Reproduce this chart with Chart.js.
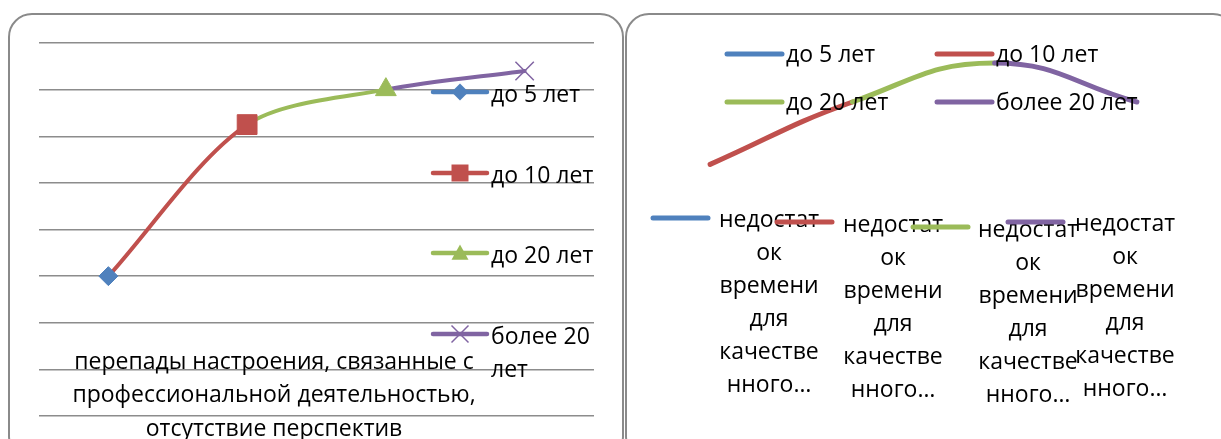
<!DOCTYPE html>
<html><head><meta charset="utf-8">
<script src="https://cdn.jsdelivr.net/npm/chart.js@4/dist/chart.umd.min.js"></script>
<style>
html,body{margin:0;padding:0;width:1221px;height:439px;overflow:hidden;background:#fff;}
.box{position:absolute;border:2px solid #8a8a8a;border-radius:24px;box-sizing:border-box;}
#b1{left:8px;top:13px;width:616px;height:448px;}
#b2{left:625px;top:13px;width:612px;height:448px;}
.wrap{position:absolute;top:0;height:439px;}
#w1{left:0;width:624px;}
#w2{left:624px;width:597px;}
</style></head><body>
<div class="box" id="b1"></div><div class="box" id="b2"></div>
<div class="wrap" id="w1"><canvas id="c1"></canvas></div>
<div class="wrap" id="w2"><canvas id="c2"></canvas></div>
<script>
// ---- data ----
const seriesNames = ['до 5 лет', 'до 10 лет', 'до 20 лет', 'более 20 лет'];
const seriesColors = ['#4f81bd', '#c0504d', '#9bbb59', '#8064a2'];
const seriesMarkers = ['rectRot', 'rect', 'triangle', 'crossRot'];
const leftCategoryLines = ['перепады настроения, связанные с', 'профессиональной деятельностью,', 'отсутствие перспектив'];
const leftValues = [30, 62.5, 70, 74];
const leftAxisMin = 0, leftAxisMax = 80, leftAxisStep = 10;
const leftLegendLines = [['до 5 лет'], ['до 10 лет'], ['до 20 лет'], ['более 20', 'лет']];
const rightCategoryLines = ['недостат', 'ок', 'времени', 'для', 'качестве', 'нного…'];
const rightValues = [14, 30, 40, 30];
const rightAxisMin = 0, rightAxisMax = 50;

const FONT = '23px "Open Sans"';

function drawMarker(ctx, style, x, y, h, color) {
  ctx.save();
  ctx.fillStyle = color; ctx.strokeStyle = color; ctx.lineWidth = 1.5;
  ctx.beginPath();
  if (style === 'rectRot') { ctx.moveTo(x, y - h); ctx.lineTo(x + h, y); ctx.lineTo(x, y + h); ctx.lineTo(x - h, y); ctx.closePath(); ctx.fill(); }
  else if (style === 'rect') { ctx.rect(x - h, y - h, 2 * h, 2 * h); ctx.fill(); }
  else if (style === 'triangle') { ctx.moveTo(x, y - h); ctx.lineTo(x + h, y + h * 0.8); ctx.lineTo(x - h, y + h * 0.8); ctx.closePath(); ctx.fill(); }
  else { ctx.moveTo(x - h, y - h); ctx.lineTo(x + h, y + h); ctx.moveTo(x + h, y - h); ctx.lineTo(x - h, y + h); ctx.stroke(); }
  ctx.restore();
}
function sampleLine(ctx, x1, x2, y, color, w) {
  ctx.save(); ctx.strokeStyle = color; ctx.lineWidth = w; ctx.lineCap = 'round';
  ctx.beginPath(); ctx.moveTo(x1, y); ctx.lineTo(x2, y); ctx.stroke(); ctx.restore();
}

const leftDecor = {
  id: 'leftDecor',
  afterDraw(chart) {
    const ctx = chart.ctx; ctx.save();
    ctx.font = FONT; ctx.fillStyle = '#000'; ctx.textBaseline = 'middle';
    ctx.textAlign = 'center';
    leftCategoryLines.forEach((t, i) => ctx.fillText(t, 274, 362 + i * 33.5));
    const ys = [92, 173, 253, 334];
    ctx.textAlign = 'left';
    leftLegendLines.forEach((lines, i) => {
      sampleLine(ctx, 433, 487, ys[i], seriesColors[i], 4.5);
      drawMarker(ctx, seriesMarkers[i], 460, ys[i], 8.5, seriesColors[i]);
      lines.forEach((t, j) => ctx.fillText(t, 491, ys[i] + 3 + j * 33));
    });
    ctx.restore();
  }
};

const rightDecor = {
  id: 'rightDecor',
  afterDraw(chart) {
    const ctx = chart.ctx; ctx.save();
    const ox = 624;
    ctx.font = FONT; ctx.fillStyle = '#000'; ctx.textBaseline = 'middle'; ctx.textAlign = 'left';
    const tl = [[727, 54], [937, 54], [727, 102], [937, 102]];
    tl.forEach((p, i) => {
      sampleLine(ctx, p[0] - ox, p[0] + 55 - ox, p[1], seriesColors[i], 5);
      ctx.fillText(seriesNames[i], p[0] + 59 - ox, p[1] + 1);
    });
    const samples = [[653, 218], [777, 222], [913, 227], [1008, 222]];
    const texts = [[769, 220], [893, 225], [1028, 230], [1125, 224]];
    ctx.textAlign = 'center';
    texts.forEach((p, i) => {
      rightCategoryLines.forEach((t, j) => ctx.fillText(t, p[0] - ox, p[1] + j * 33));
    });
    samples.forEach((p, i) => sampleLine(ctx, p[0] - ox, p[0] + 55 - ox, p[1], seriesColors[i], 5));
    ctx.restore();
  }
};

const segColor = ctx => seriesColors[ctx.p1DataIndex];

new Chart(document.getElementById('c1'), {
  type: 'line',
  data: {
    labels: seriesNames,
    datasets: [{
      data: leftValues,
      borderWidth: 4,
      borderCapStyle: 'round',
      tension: 0.3,
      fill: false,
      segment: { borderColor: segColor },
      borderColor: seriesColors[1],
      pointStyle: seriesMarkers,
      pointRadius: [9.5, 14, 12, 13],
      pointBackgroundColor: seriesColors,
      pointBorderColor: seriesColors,
      pointBorderWidth: [1, 1, 1, 1.5]
    }]
  },
  options: {
    responsive: true, maintainAspectRatio: false, animation: false,
    layout: { padding: { left: 39, right: 30, top: 43, bottom: 23 } },
    plugins: { legend: { display: false }, tooltip: { enabled: false } },
    scales: {
      x: { display: false, offset: true },
      y: {
        min: leftAxisMin, max: leftAxisMax,
        ticks: { display: false, stepSize: leftAxisStep },
        grid: { color: '#8c8c8c', lineWidth: 1.5, drawTicks: false },
        border: { display: false }
      }
    }
  },
  plugins: [leftDecor]
});

new Chart(document.getElementById('c2'), {
  type: 'line',
  data: {
    labels: seriesNames,
    datasets: [{
      data: rightValues,
      borderWidth: 5,
      borderCapStyle: 'round',
      tension: 0.45,
      fill: false,
      segment: { borderColor: segColor },
      borderColor: seriesColors[1],
      pointRadius: 0
    }]
  },
  options: {
    responsive: true, maintainAspectRatio: false, animation: false,
    layout: { padding: { left: 15, right: 13, top: 24, bottom: 220 } },
    plugins: { legend: { display: false }, tooltip: { enabled: false } },
    scales: {
      x: { display: false, offset: true },
      y: { display: false, min: rightAxisMin, max: rightAxisMax }
    }
  },
  plugins: [rightDecor]
});
</script>
</body></html>
